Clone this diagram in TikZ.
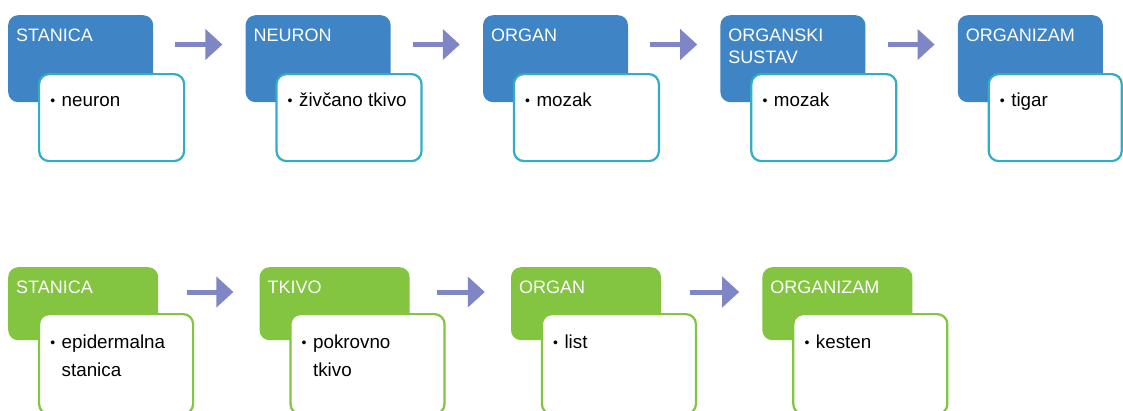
\documentclass[tikz,border=0pt]{standalone}
\usepackage{fontspec}
\setmainfont{Liberation Sans}
\usetikzlibrary{
  arrows.meta,
  positioning
}
\definecolor{lvBlue}{HTML}{3F84C5}
\definecolor{lvTeal}{HTML}{2FAEC4}
\definecolor{lvGreen}{HTML}{83C441}
\definecolor{lvArrow}{HTML}{7F86C5}
\newcommand{\ttlstrut}{\rule{0pt}{14pt}}
\newcommand{\itemstrut}{\rule{0pt}{15pt}}
\newcommand{\itm}{\llap{\raisebox{1pt}{\fontsize{14}{14}\selectfont\textbullet}\hspace{6.5pt}}}
\tikzset{
  lvhead/.style={
    rounded corners=10pt, anchor=north west, inner sep=0pt
  },
  headblue/.style={lvhead, fill=lvBlue, minimum width=145pt, minimum height=87pt},
  headgreen/.style={lvhead, fill=lvGreen, minimum width=150pt, minimum height=73pt},
  lvdetail/.style={draw, fill=white, line width=2.2pt, rounded corners=10pt, anchor=north west, inner sep=0pt},
  detailteal/.style={lvdetail, draw=lvTeal, minimum width=145pt, minimum height=87pt},
  detailgreen/.style={lvdetail, draw=lvGreen, minimum width=154pt, minimum height=100pt},
  headtext/.style={anchor=north west, inner sep=0pt, text=white, align=left, font=\fontsize{18}{22}\selectfont},
  itemtext/.style={anchor=north west, inner sep=0pt, text=black, align=left, font=\fontsize{18.8}{28}\selectfont},
  levelarrow/.style={line width=5pt, lvArrow, -{Triangle[length=17pt, width=30pt]}}
}

\begin{document}
\begin{tikzpicture}[x=1pt, y=1pt]
  \useasboundingbox (0,0) rectangle (1123,-410);

  % animal: stanica -> organizam
  \node[headblue] (stanicaH) at (8,-15) {};
  \node[headblue, right=92pt of stanicaH] (neuronH) {};
  \node[headblue, right=92pt of neuronH] (organH) {};
  \node[headblue, right=92pt of organH] (sustavH) {};
  \node[headblue, right=92pt of sustavH] (organizamH) {};

  \node[detailteal] (stanicaD) at ([xshift=30pt,yshift=-58pt]stanicaH.north west) {};
  \node[detailteal] (neuronD) at ([xshift=30pt,yshift=-58pt]neuronH.north west) {};
  \node[detailteal] (organD) at ([xshift=30pt,yshift=-58pt]organH.north west) {};
  \node[detailteal] (sustavD) at ([xshift=30pt,yshift=-58pt]sustavH.north west) {};
  \node[detailteal, minimum width=133pt] (organizamD) at ([xshift=30pt,yshift=-58pt]organizamH.north west) {};

  \node[headtext] (stanicaT) at ([xshift=8pt,yshift=-12pt]stanicaH.north west) {\ttlstrut STANICA};
  \node[headtext] (neuronT) at ([xshift=8pt,yshift=-12pt]neuronH.north west) {\ttlstrut NEURON};
  \node[headtext] (organT) at ([xshift=8pt,yshift=-12pt]organH.north west) {\ttlstrut ORGAN};
  \node[headtext] (sustavT) at ([xshift=8pt,yshift=-12pt]sustavH.north west) {\ttlstrut ORGANSKI\\SUSTAV};
  \node[headtext] (organizamT) at ([xshift=8pt,yshift=-12pt]organizamH.north west) {\ttlstrut ORGANIZAM};

  \node[itemtext] (stanicaI) at ([xshift=23.5pt,yshift=-18pt]stanicaD.north west) {\itemstrut\itm neuron};
  \node[itemtext] (neuronI) at ([xshift=23.5pt,yshift=-18pt]neuronD.north west) {\itemstrut\itm živčano tkivo};
  \node[itemtext] (organI) at ([xshift=23.5pt,yshift=-18pt]organD.north west) {\itemstrut\itm mozak};
  \node[itemtext] (sustavI) at ([xshift=23.5pt,yshift=-18pt]sustavD.north west) {\itemstrut\itm mozak};
  \node[itemtext] (organizamI) at ([xshift=23.5pt,yshift=-18pt]organizamD.north west) {\itemstrut\itm tigar};

  \draw[levelarrow, shorten <=22pt, shorten >=23pt] ([yshift=-29.5pt]stanicaH.north east) -- ([yshift=-29.5pt]neuronH.north west);
  \draw[levelarrow, shorten <=22pt, shorten >=23pt] ([yshift=-29.5pt]neuronH.north east) -- ([yshift=-29.5pt]organH.north west);
  \draw[levelarrow, shorten <=22pt, shorten >=23pt] ([yshift=-29.5pt]organH.north east) -- ([yshift=-29.5pt]sustavH.north west);
  \draw[levelarrow, shorten <=22pt, shorten >=23pt] ([yshift=-29.5pt]sustavH.north east) -- ([yshift=-29.5pt]organizamH.north west);

  % plant: stanica -> organizam
  \node[headgreen] (stanica2H) at (8,-267) {};
  \node[headgreen, right=101pt of stanica2H] (tkivo2H) {};
  \node[headgreen, right=101pt of tkivo2H] (organ2H) {};
  \node[headgreen, right=101pt of organ2H] (organizam2H) {};

  \node[detailgreen] (stanica2D) at ([xshift=30pt,yshift=-46pt]stanica2H.north west) {};
  \node[detailgreen] (tkivo2D) at ([xshift=30pt,yshift=-46pt]tkivo2H.north west) {};
  \node[detailgreen] (organ2D) at ([xshift=30pt,yshift=-46pt]organ2H.north west) {};
  \node[detailgreen] (organizam2D) at ([xshift=30pt,yshift=-46pt]organizam2H.north west) {};

  \node[headtext] (stanica2T) at ([xshift=8pt,yshift=-12pt]stanica2H.north west) {\ttlstrut STANICA};
  \node[headtext] (tkivo2T) at ([xshift=8pt,yshift=-12pt]tkivo2H.north west) {\ttlstrut TKIVO};
  \node[headtext] (organ2T) at ([xshift=8pt,yshift=-12pt]organ2H.north west) {\ttlstrut ORGAN};
  \node[headtext] (organizam2T) at ([xshift=8pt,yshift=-12pt]organizam2H.north west) {\ttlstrut ORGANIZAM};

  \node[itemtext] (stanica2I) at ([xshift=23.5pt,yshift=-20pt]stanica2D.north west) {\itemstrut\itm epidermalna\\stanica};
  \node[itemtext] (tkivo2I) at ([xshift=23.5pt,yshift=-20pt]tkivo2D.north west) {\itemstrut\itm pokrovno\\tkivo};
  \node[itemtext] (organ2I) at ([xshift=23.5pt,yshift=-20pt]organ2D.north west) {\itemstrut\itm list};
  \node[itemtext] (organizam2I) at ([xshift=23.5pt,yshift=-20pt]organizam2D.north west) {\itemstrut\itm kesten};

  \draw[levelarrow, shorten <=29pt, shorten >=26pt] ([yshift=-25pt]stanica2H.north east) -- ([yshift=-25pt]tkivo2H.north west);
  \draw[levelarrow, shorten <=27pt, shorten >=26pt] ([yshift=-25pt]tkivo2H.north east) -- ([yshift=-25pt]organ2H.north west);
  \draw[levelarrow, shorten <=29pt, shorten >=23pt] ([yshift=-25pt]organ2H.north east) -- ([yshift=-25pt]organizam2H.north west);
\end{tikzpicture}
\end{document}
